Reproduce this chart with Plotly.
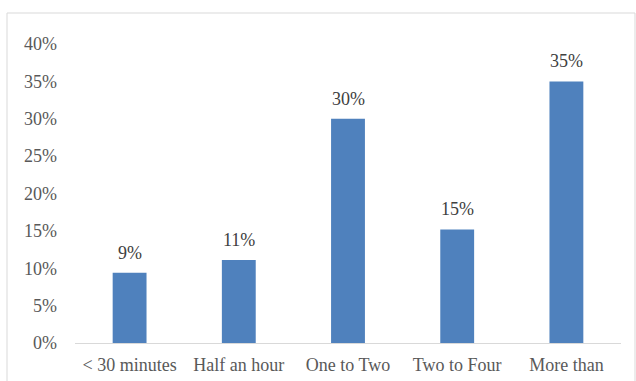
import plotly.graph_objects as go

categories = ["< 30 minutes", "Half an hour<br>to an hour", "One to Two<br>hours", "Two to Four<br>Hours", "More than<br>Four Hours"]
values = [0.094, 0.111, 0.300, 0.152, 0.350]
labels = ["9%", "11%", "30%", "15%", "35%"]
tick_vals = [0, 0.05, 0.10, 0.15, 0.20, 0.25, 0.30, 0.35, 0.40]
tick_text = ["0%", "5%", "10%", "15%", "20%", "25%", "30%", "35%", "40%"]

FONT = "Times New Roman, Liberation Serif, serif"
L, R, T, B = 75, 15, 44, 38
PW = 636 - L - R
PH = 381 - T - B

fig = go.Figure()
fig.add_trace(go.Bar(x=categories, y=values, marker=dict(color="#4f81bd", line=dict(width=0))))

for c, v, t in zip(categories, values, labels):
    fig.add_annotation(x=c, y=v, text=t, showarrow=False, yanchor="bottom", yshift=8,
                       font=dict(family=FONT, size=18, color="#404040"))

# outer chart frame
fig.add_shape(type="rect", xref="paper", yref="paper",
              x0=(7 - L) / PW, x1=(635 - L) / PW, y0=-0.5, y1=(381 - B - 13) / PH,
              line=dict(color="#d9d9d9", width=1), layer="below")

fig.update_layout(
    width=636, height=381,
    margin=dict(l=L, r=R, t=T, b=B),
    paper_bgcolor="white", plot_bgcolor="white",
    bargap=0.69, showlegend=False,
    font=dict(family=FONT, size=18, color="#595959"),
    xaxis=dict(showline=True, linecolor="#d9d9d9", linewidth=1, ticks="", showgrid=False,
               automargin=False, ticklabelstandoff=5,
               tickfont=dict(family=FONT, size=18, color="#595959")),
    yaxis=dict(range=[0, 0.40], tickvals=tick_vals, ticktext=tick_text, showgrid=False,
               automargin=False, zeroline=False, showline=False, ticks="", ticklabelstandoff=17,
               tickfont=dict(family=FONT, size=18, color="#595959")),
)
fig.write_html("out.html")
